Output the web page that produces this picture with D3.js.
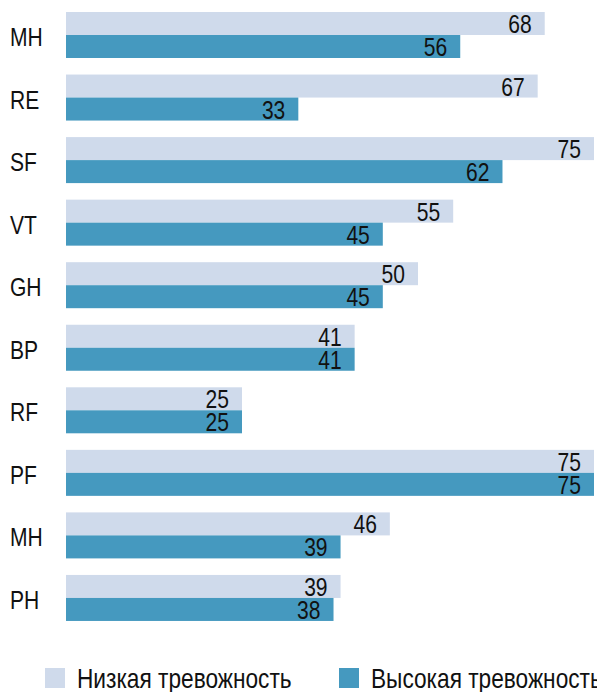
<!DOCTYPE html>
<html>
<head>
<meta charset="utf-8">
<script src="https://cdn.jsdelivr.net/npm/d3@7"></script>
<style>
  body { margin: 0; background: #fff; }
  text { font-family: "Liberation Sans", Arial, sans-serif; }
</style>
</head>
<body>
<div id="chart"></div>
<script>
// Chart data
var categories = ["MH", "RE", "SF", "VT", "GH", "BP", "RF", "PF", "MH", "PH"];
var lowAnxiety = [68, 67, 75, 55, 50, 41, 25, 75, 46, 39];
var highAnxiety = [56, 33, 62, 45, 45, 41, 25, 75, 39, 38];
var seriesNames = ["Низкая тревожность", "Высокая тревожность"];
var seriesColors = ["#cfdaeb", "#4599bf"];

var svg_dx = 597,
    svg_dy = 692,
    narrow = 0.81;   // horizontal squeeze to mimic a condensed face

var svg = d3.select("#chart")
            .append("svg")
            .attr("width", svg_dx)
            .attr("height", svg_dy);

// x scale: value -> pixel
var xScale = d3.scaleLinear()
               .domain([0, 75])
               .range([66, 594]);

// y scale over group index (MH appears twice)
var step = 62.55, pairH = 46;
var yScale = d3.scaleBand()
               .domain(d3.range(categories.length))
               .range([12, 12 + step * (categories.length - 1) + pairH])
               .paddingInner((step - pairH) / step)
               .paddingOuter(0);

var barH = yScale.bandwidth() / 2;

function squeeze(x, y) {
	return "translate(" + x + "," + y + ") scale(" + narrow + ",1)";
}

var groups = svg.selectAll(".group")
                .data(categories)
                .enter()
                .append("g")
                .attr("class", "group")
                .attr("transform", function(d, i) { return "translate(0," + yScale(i) + ")"; });

// category labels
groups.append("text")
      .attr("transform", squeeze(10, barH + 11))
      .style("font-size", "26px")
      .attr("fill", "#111")
      .text(function(d) { return d; });

var seriesData = [lowAnxiety, highAnxiety];

seriesData.forEach(function(values, s) {
	groups.append("rect")
	      .attr("x", xScale(0))
	      .attr("y", s * barH)
	      .attr("width", function(d, i) { return xScale(values[i]) - xScale(0); })
	      .attr("height", barH)
	      .attr("fill", seriesColors[s]);
});

seriesData.forEach(function(values, s) {
	groups.append("text")
	      .attr("transform", function(d, i) { return squeeze(xScale(values[i]) - 13, s * barH + 21); })
	      .attr("text-anchor", "end")
	      .style("font-size", "26px")
	      .attr("fill", "#111")
	      .text(function(d, i) { return values[i]; });
});

// legend
var legendX = [45, 339];
var legend = svg.selectAll(".legend")
                .data(seriesNames)
                .enter()
                .append("g")
                .attr("class", "legend")
                .attr("transform", function(d, i) { return "translate(" + legendX[i] + ",668)"; });

legend.append("rect")
      .attr("width", 20)
      .attr("height", 20)
      .attr("fill", function(d, i) { return seriesColors[i]; });

legend.append("text")
      .attr("transform", squeeze(32, 20))
      .style("font-size", "28px")
      .attr("fill", "#111")
      .text(function(d) { return d; });
</script>
</body>
</html>
